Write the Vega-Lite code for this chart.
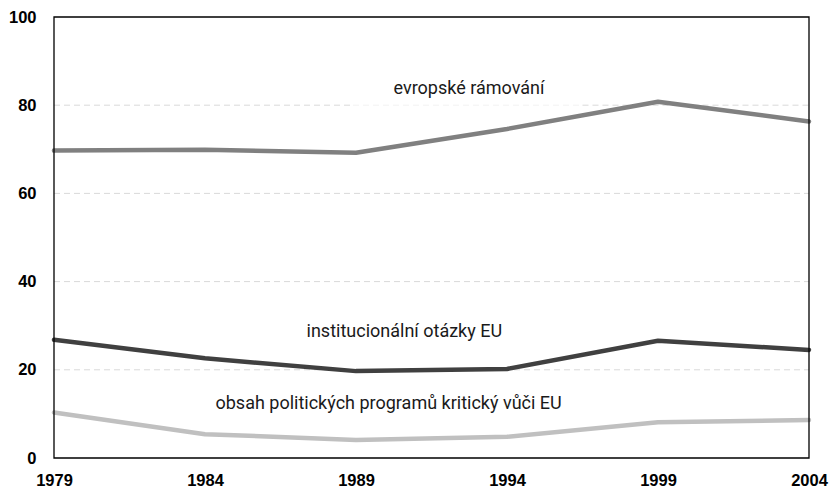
{
  "$schema": "https://vega.github.io/schema/vega-lite/v6.json",
  "width": 755,
  "height": 441,
  "autosize": {"type": "none"},
  "padding": {"left": 54, "top": 17, "right": 20, "bottom": 29},
  "background": "white",
  "config": {
    "view": {"stroke": null},
    "font": "Liberation Sans"
  },
  "datasets": {
    "lines": [
      {"year": 1979, "series": "evropské rámování", "value": 69.7},
      {"year": 1984, "series": "evropské rámování", "value": 69.9},
      {"year": 1989, "series": "evropské rámování", "value": 69.2},
      {"year": 1994, "series": "evropské rámování", "value": 74.6},
      {"year": 1999, "series": "evropské rámování", "value": 80.8},
      {"year": 2004, "series": "evropské rámování", "value": 76.3},
      {"year": 1979, "series": "institucionální otázky EU", "value": 26.8},
      {"year": 1984, "series": "institucionální otázky EU", "value": 22.6},
      {"year": 1989, "series": "institucionální otázky EU", "value": 19.7},
      {"year": 1994, "series": "institucionální otázky EU", "value": 20.2},
      {"year": 1999, "series": "institucionální otázky EU", "value": 26.6},
      {"year": 2004, "series": "institucionální otázky EU", "value": 24.5},
      {"year": 1979, "series": "obsah politických programů kritický vůči EU", "value": 10.3},
      {"year": 1984, "series": "obsah politických programů kritický vůči EU", "value": 5.4},
      {"year": 1989, "series": "obsah politických programů kritický vůči EU", "value": 4.1},
      {"year": 1994, "series": "obsah politických programů kritický vůči EU", "value": 4.8},
      {"year": 1999, "series": "obsah politických programů kritický vůči EU", "value": 8.1},
      {"year": 2004, "series": "obsah politických programů kritický vůči EU", "value": 8.6}
    ],
    "labels": [
      {"year": 1992.74, "value": 83.6, "series": "evropské rámování"},
      {"year": 1990.6, "value": 28.6, "series": "institucionální otázky EU"},
      {"year": 1990.08, "value": 12.2, "series": "obsah politických programů kritický vůči EU"}
    ],
    "grid": [
      {"value": 20, "from": 1979, "to": 2004},
      {"value": 40, "from": 1979, "to": 2004},
      {"value": 60, "from": 1979, "to": 2004},
      {"value": 80, "from": 1979, "to": 1988.9},
      {"value": 80, "from": 1996.5, "to": 2004}
    ],
    "gridFaint": [
      {"value": 80, "from": 1988.9, "to": 1996.5}
    ],
    "frame": [
      {"x1": 1979, "x2": 2004, "y1": 0, "y2": 100}
    ]
  },
  "layer": [
    {
      "data": {"name": "grid"},
      "mark": {"type": "rule", "color": "#d9d9d9", "strokeDash": [6, 4], "strokeWidth": 1},
      "encoding": {
        "x": {"field": "from", "type": "quantitative"},
        "x2": {"field": "to"},
        "y": {"field": "value", "type": "quantitative"}
      }
    },
    {
      "data": {"name": "gridFaint"},
      "mark": {"type": "rule", "color": "#f2f2f2", "strokeDash": [6, 4], "strokeWidth": 1},
      "encoding": {
        "x": {"field": "from", "type": "quantitative"},
        "x2": {"field": "to"},
        "y": {"field": "value", "type": "quantitative"}
      }
    },
    {
      "data": {"name": "lines"},
      "mark": {"type": "line", "strokeWidth": 4.5, "strokeCap": "round", "strokeJoin": "round"},
      "encoding": {
        "x": {
          "field": "year", "type": "quantitative",
          "scale": {"domain": [1979, 2004], "nice": false, "zero": false},
          "axis": {
            "values": [1979, 1984, 1989, 1994, 1999, 2004],
            "format": "d", "title": null, "grid": false, "domain": false, "ticks": false,
            "labelFont": "Liberation Sans", "labelFontWeight": "bold", "labelFontSize": 16.5,
            "labelColor": "#000000", "labelPadding": 14, "labelFlush": false
          }
        },
        "y": {
          "field": "value", "type": "quantitative",
          "scale": {"domain": [0, 100], "nice": false},
          "axis": {
            "values": [0, 20, 40, 60, 80, 100],
            "title": null, "grid": false,
            "domain": false, "ticks": false,
            "labelFont": "Liberation Sans", "labelFontWeight": "bold", "labelFontSize": 16.5,
            "labelColor": "#000000", "labelPadding": 18
          }
        },
        "color": {
          "field": "series", "type": "nominal",
          "scale": {
            "domain": ["evropské rámování", "institucionální otázky EU", "obsah politických programů kritický vůči EU"],
            "range": ["#808080", "#404040", "#c0c0c0"]
          },
          "legend": null
        }
      }
    },
    {
      "data": {"name": "frame"},
      "mark": {"type": "rect", "fill": null, "stroke": "#000000", "strokeWidth": 1.3},
      "encoding": {
        "x": {"field": "x1", "type": "quantitative"},
        "x2": {"field": "x2"},
        "y": {"field": "y1", "type": "quantitative"},
        "y2": {"field": "y2"}
      }
    },
    {
      "data": {"name": "labels"},
      "mark": {"type": "text", "font": "Roboto", "fontSize": 18, "color": "#1a1a1a", "align": "center", "baseline": "middle"},
      "encoding": {
        "x": {"field": "year", "type": "quantitative"},
        "y": {"field": "value", "type": "quantitative"},
        "text": {"field": "series"}
      }
    }
  ]
}
